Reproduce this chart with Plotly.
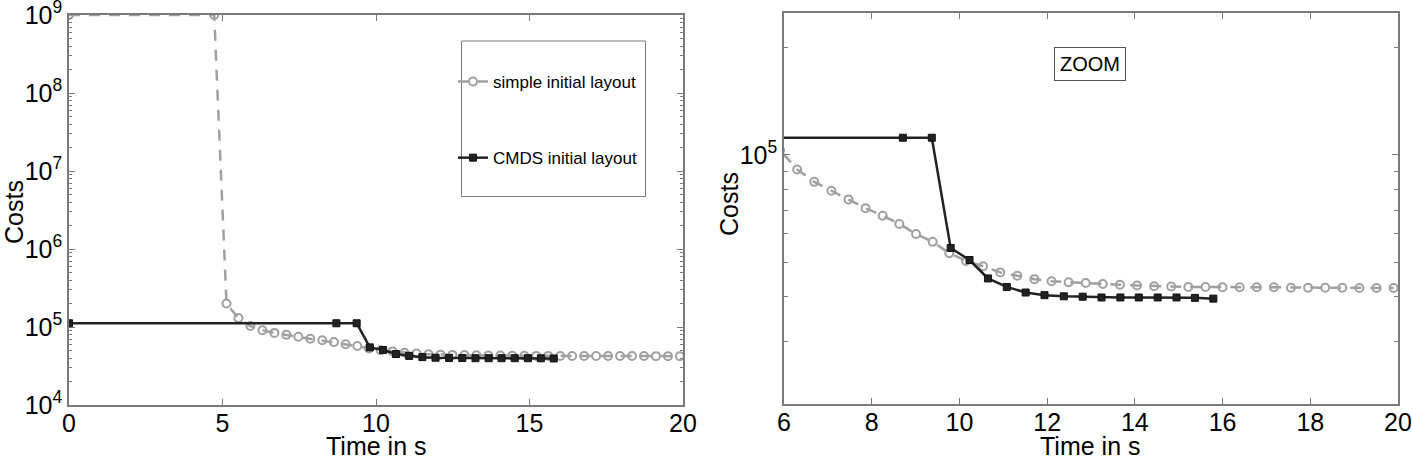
import plotly.graph_objects as go

# ---------------- data ----------------
simple_t = [0, 4.73, 5.13, 5.52, 5.91, 6.30, 6.69, 7.08, 7.47, 7.86, 8.25, 8.63,
            9.01, 9.39, 9.77, 10.15, 10.54, 10.93, 11.32, 11.71, 12.10, 12.49,
            12.88, 13.27, 13.66, 14.05, 14.44, 14.83, 15.22, 15.61, 16.00, 16.39,
            16.78, 17.17, 17.56, 17.95, 18.34, 18.73, 19.12, 19.51, 19.90]
simple_cost = [1e9, 1e9, 2.0e5, 1.30e5, 1.03e5, 9.1e4, 8.4e4, 7.93e4, 7.5e4, 7.08e4,
               6.75e4, 6.4e4, 6.0e4, 5.7e4, 5.3e4, 5.04e4, 4.87e4, 4.68e4, 4.58e4,
               4.48e4, 4.42e4, 4.39e4, 4.37e4, 4.34e4, 4.32e4, 4.30e4, 4.28e4,
               4.27e4, 4.26e4, 4.26e4, 4.25e4, 4.25e4, 4.25e4, 4.25e4, 4.24e4,
               4.24e4, 4.24e4, 4.24e4, 4.23e4, 4.23e4, 4.23e4]

cmds_t = [0, 8.71, 9.37, 9.80, 10.23, 10.65, 11.08, 11.51, 11.94, 12.38, 12.81,
          13.24, 13.67, 14.09, 14.52, 14.95, 15.37, 15.79]
cmds_cost = [1.117e5, 1.117e5, 1.117e5, 5.48e4, 5.07e4, 4.50e4, 4.26e4, 4.11e4,
             4.04e4, 4.01e4, 4.0e4, 3.98e4, 3.98e4, 3.98e4, 3.98e4, 3.98e4,
             3.97e4, 3.95e4]

left_xticks = [0, 5, 10, 15, 20]
left_yticks = [1e4, 1e5, 1e6, 1e7, 1e8, 1e9]
left_yticktext = ["10<sup>4</sup>", "10<sup>5</sup>", "10<sup>6</sup>",
                  "10<sup>7</sup>", "10<sup>8</sup>", "10<sup>9</sup>"]
right_xticks = [6, 8, 10, 12, 14, 16, 18, 20]
right_yticks = [1e5]
right_yticktext = ["10<sup>5</sup>"]

series_names = ["simple initial layout", "CMDS initial layout"]
xlabel = "Time in s"
ylabel = "Costs"
zoom_label = "ZOOM"

# ---------------- styling ----------------
W, H = 1412, 461
GRAY = "#a0a0a0"
BLACK = "#222222"
AXC = "#7a7a7a"
FONT = "Liberation Sans, Arial, sans-serif"

def px_x(p):
    return p / W

def px_y(p):
    return 1 - p / H

minor_vals = [m * 10 ** e for e in range(4, 10) for m in range(2, 10)]

fig = go.Figure()

for ax, show in (("", True), ("2", False)):
    fig.add_trace(go.Scatter(
        x=simple_t, y=simple_cost, mode="lines+markers", name=series_names[0],
        xaxis="x" + ax, yaxis="y" + ax, showlegend=show, legendgroup="a",
        line=dict(color=GRAY, width=2.5, dash="11px,9px"),
        marker=dict(symbol="circle-open", size=8, color=GRAY, line=dict(width=2, color=GRAY)),
    ))
    fig.add_trace(go.Scatter(
        x=cmds_t, y=cmds_cost, mode="lines+markers", name=series_names[1],
        xaxis="x" + ax, yaxis="y" + ax, showlegend=show, legendgroup="b",
        line=dict(color=BLACK, width=2.5),
        marker=dict(symbol="square", size=7, color=BLACK, line=dict(width=1, color="#111111")),
    ))

common_axis = dict(
    showline=True, linecolor=AXC, linewidth=1.5, mirror="allticks",
    ticks="inside", ticklen=6, tickcolor=AXC, tickwidth=1,
    showgrid=False, zeroline=False, automargin=False, ticklabeloverflow="allow",
    tickfont=dict(family=FONT, size=25, color="black"),
)

fig.update_layout(
    template="none",
    width=W, height=H,
    margin=dict(l=0, r=0, t=0, b=0, pad=0),
    paper_bgcolor="white", plot_bgcolor="white",
    font=dict(family=FONT, color="black"),
    xaxis=dict(domain=[px_x(69), px_x(683)], range=[0, 20], tickmode="array",
               tickvals=left_xticks, anchor="y", **common_axis),
    yaxis=dict(domain=[px_y(405), px_y(15)], type="log", range=[4, 9.0005], tickmode="array",
               tickvals=left_yticks, ticktext=left_yticktext, anchor="x",
               minor=dict(ticks="inside", ticklen=3, tickcolor=AXC, tickmode="array",
                          tickvals=minor_vals),
               **common_axis),
    xaxis2=dict(domain=[px_x(784), px_x(1398)], range=[6, 20], tickmode="array",
                tickvals=right_xticks, anchor="y2", **common_axis),
    yaxis2=dict(domain=[px_y(404), px_y(13)], type="log", range=[4.30103, 5.39794],
                tickmode="array", tickvals=right_yticks, ticktext=right_yticktext,
                anchor="x2",
                minor=dict(ticks="inside", ticklen=4, tickcolor=AXC, tickmode="array",
                           tickvals=minor_vals),
                **common_axis),
    legend=dict(x=px_x(453), y=px_y(64), xanchor="left", yanchor="top",
                bgcolor="rgba(0,0,0,0)", borderwidth=0, tracegroupgap=51,
                traceorder="grouped", itemwidth=30,
                font=dict(family=FONT, size=17, color="black")),
    showlegend=True,
)

try:
    fig.update_xaxes(ticklabelstandoff=-5)
except Exception:
    pass

# legend frame
fig.add_shape(type="rect", xref="paper", yref="paper",
              x0=px_x(461.5), x1=px_x(645.5), y0=px_y(196.5), y1=px_y(41),
              line=dict(color=AXC, width=1), fillcolor="rgba(0,0,0,0)", layer="above")

annos = [
    dict(text=ylabel, x=px_x(14), y=px_y(212), textangle=-90, font_size=25),
    dict(text=ylabel, x=px_x(729), y=px_y(204), textangle=-90, font_size=25),
    dict(text=xlabel, x=px_x(376), y=px_y(446), font_size=25),
    dict(text=xlabel, x=px_x(1090), y=px_y(446), font_size=25),
]
for a in annos:
    fig.add_annotation(xref="paper", yref="paper", showarrow=False,
                       xanchor="center", yanchor="middle",
                       font=dict(family=FONT, size=a.pop("font_size"), color="black"), **a)

fig.add_annotation(xref="paper", yref="paper", x=px_x(1089.5), y=px_y(63.5),
                   text=zoom_label, showarrow=False, xanchor="center", yanchor="middle",
                   font=dict(family=FONT, size=20, color="black"),
                   bordercolor="#555555", borderwidth=1, borderpad=5, bgcolor="white")

fig.write_html("out.html", config={"displayModeBar": False},
               post_script="document.body.style.margin='0';document.body.style.padding='0';")
